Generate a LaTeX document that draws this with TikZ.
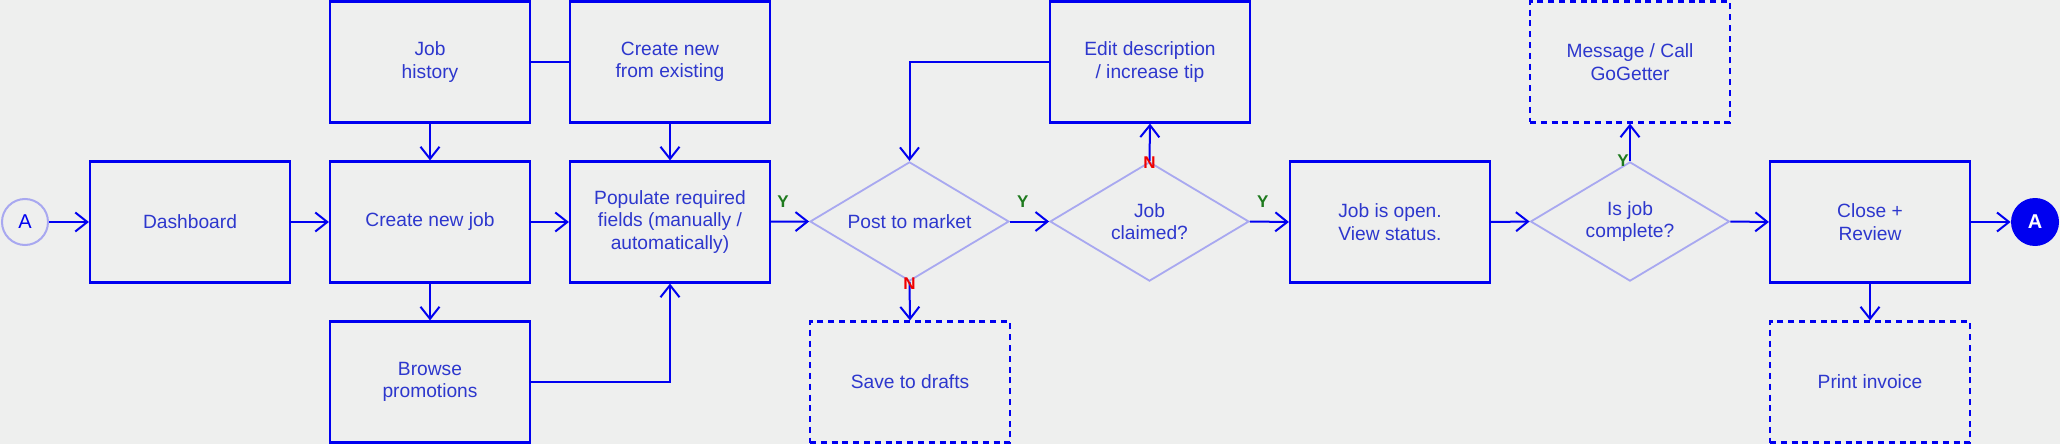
\documentclass[tikz,border=0pt]{standalone}
\usepackage{fontspec}
\setmainfont{Liberation Sans}
\usetikzlibrary{arrows.meta,shapes.geometric,calc}
\definecolor{bg}{HTML}{EEEFEE}
\definecolor{ln}{HTML}{0000F0}
\definecolor{tx}{RGB}{45,55,205}
\definecolor{dm}{HTML}{A8A8F0}
\definecolor{yc}{HTML}{1E7A1E}
\definecolor{nc}{HTML}{F00000}
\begin{document}
\begin{tikzpicture}[x=0.5pt,y=-0.5pt,
 lbl/.style={text=tx,font=\fontsize{9.6}{11.2}\selectfont,align=center},
 box/.style={lbl,draw=ln,line width=1.1pt,minimum width=100pt,minimum height=60.5pt,inner sep=0pt},
 dbox/.style={box,dash pattern=on 3pt off 2.4pt},
 dia/.style={lbl,diamond,draw=dm,line width=0.9pt,minimum width=99.5pt,minimum height=59.6pt,inner sep=0pt,aspect=1.67},
 arr/.style={draw=ln,line width=1pt,-{Straight Barb[length=6pt,width=9.5pt,line width=1pt]}},
 con/.style={draw=ln,line width=1pt},
 yl/.style={text=yc,font=\bfseries\fontsize{8.5}{8.5}\selectfont,inner sep=0pt},
 nl/.style={yl,text=nc}]
\fill[bg] (0,0) rectangle (2060,444);
\useasboundingbox (0,0) rectangle (2060,444);

% nodes
\node[circle,draw=dm,line width=1pt,minimum size=23pt,inner sep=0pt,text=ln,font=\fontsize{10}{10}\selectfont] (a1) at (25,222) {A};
\node[box] (dash) at (190,222) {Dashboard};
\node[box] (jh) at (430,62) {Job\\history};
\node[box] (cnj) at (430,222) {Create new job};
\node[box] (bp) at (430,382) {Browse\\promotions};
\node[box] (cnfe) at (670,62) {Create new\\from existing};
\node[box] (pop) at (670,222) {Populate required\\fields (manually /\\automatically)};
\node[dia] (post) at (909.5,221.5) {Post to market};
\node[dbox] (save) at (910,382) {Save to drafts};
\node[dia] (claim) at (1149.5,221.5) {Job\\claimed?};
\node[box] (edit) at (1150,62) {Edit description\\/ increase tip};
\node[box] (open) at (1390,222) {Job is open.\\View status.};
\node[dia] (comp) at (1630,221.5) {Is job\\complete?};
\node[dbox] (msg) at (1630,62) {Message / Call\\GoGetter};
\node[box] (close) at (1870,222) {Close +\\Review};
\node[dbox] (inv) at (1870,382) {Print invoice};
\node[circle,fill=ln,minimum size=24pt,inner sep=0pt,text=white,font=\bfseries\fontsize{10}{10}\selectfont] (a2) at (2035,222) {A};

% connectors
\draw[arr] (a1) -- (dash);
\draw[arr] (dash) -- (cnj);
\draw[arr] (jh) -- (cnj);
\draw[con] (jh) -- (cnfe);
\draw[arr] (cnfe) -- (pop);
\draw[arr] (cnj) -- (pop);
\draw[arr] (cnj) -- (bp);
\draw[arr] (bp.east) -| (pop.south);
\draw[arr] (pop) -- (post.west);
\draw[arr] (post.east) -- (claim.west);
\draw[arr] (post.south) -- (save.north);
\draw[arr] (claim.north) -- (edit.south);
\draw[arr] (edit.west) -| (post.north);
\draw[arr] (claim.east) -- (open.west);
\draw[arr] (open.east) -- (comp.west);
\draw[arr] (comp.north) -- (msg.south);
\draw[arr] (comp.east) -- (close.west);
\draw[arr] (close) -- (a2);
\draw[arr] (close) -- (inv);

% labels
\node[yl] (y1) at ($(pop.east)+(12,-20)$) {Y};
\node[yl] (y2) at ($(post.east)+(13,-20)$) {Y};
\node[yl] (y3) at ($(claim.east)+(13,-20)$) {Y};
\node[nl] (n1) at ($(post.south)+(0,2)$) {N};
\node[nl] (n2) at ($(claim.north)+(0,2)$) {N};
\node[yl] (y4) at ($(comp.north)+(-7,0)$) {Y};
\end{tikzpicture}
\end{document}
